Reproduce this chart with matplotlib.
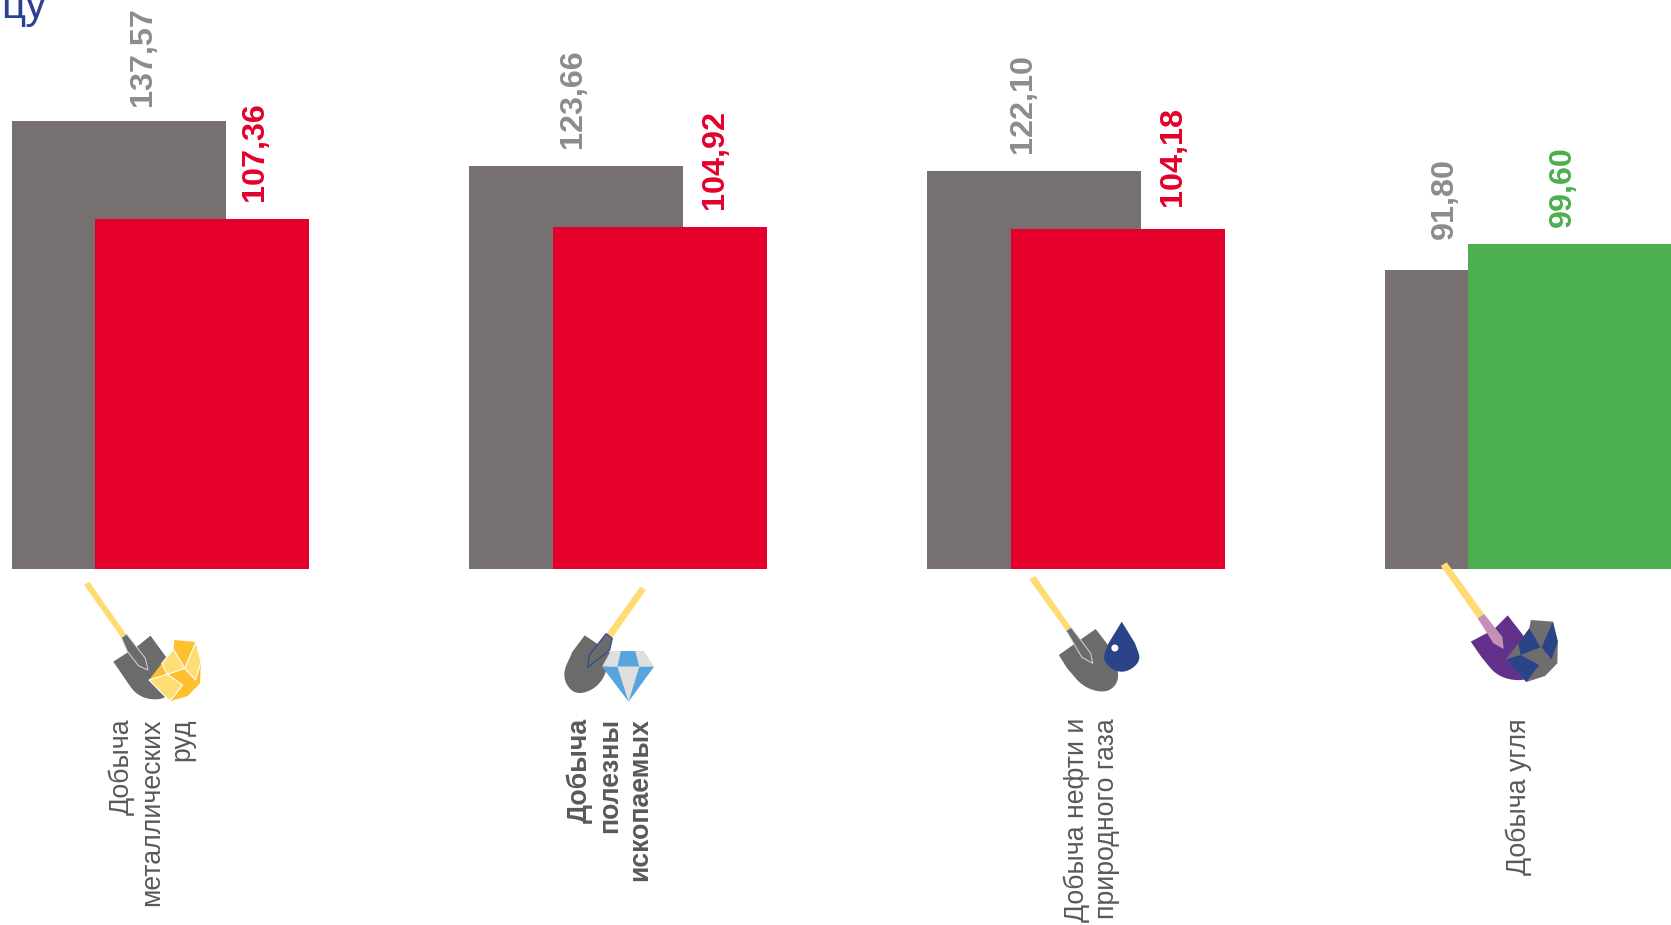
import matplotlib
matplotlib.use("Agg")
import matplotlib.pyplot as plt
from matplotlib.patches import Polygon, Ellipse

plt.rcParams['font.family'] = ['Liberation Sans', 'DejaVu Sans']

categories = ["Добыча\nметаллических\nруд", "Добыча\nполезны\nископаемых",
              "Добыча нефти и\nприродного газа", "Добыча угля"]
category_bold = [False, True, False, False]
values_prev = [137.57, 123.66, 122.10, 91.80]
values_curr = [107.36, 104.92, 104.18, 99.60]
labels_prev = ["137,57", "123,66", "122,10", "91,80"]
labels_curr = ["107,36", "104,92", "104,18", "99,60"]

W, H = 1671, 925
BASE = 569.0
PX_PER_UNIT = 3.2600
LEFT = 11.5
PITCH = 457.75
BAR_W = 214.0 / PITCH
SHIFT = 83.5 / PITCH

GRAY = "#767170"
RED = "#e4002b"
GREEN = "#4caf50"
LBL_GRAY = "#8c8c8c"
CAT = "#595959"
NAVY = "#2e4190"

fig = plt.figure(figsize=(W / 100, H / 100), dpi=100, facecolor="white")
ax = fig.add_axes([0, 1 - BASE / H, 1, BASE / H])
ax.set_xlim(-LEFT / PITCH, (W - LEFT) / PITCH)
ax.set_ylim(0, BASE / PX_PER_UNIT)
ax.axis("off")

xs = list(range(len(categories)))
ax.bar(xs, values_prev, width=BAR_W, align="edge", color=GRAY, linewidth=0)
curr_colors = [GREEN if c > p else RED for c, p in zip(values_curr, values_prev)]
ax.bar([x + SHIFT for x in xs], values_curr, width=BAR_W, align="edge", color=curr_colors, linewidth=0)

px = 72 / 100
# pixel offsets of the hand-placed labels
prev_dx = [24, -3, -11, -47]
prev_dy = [15, 18, 18, 31]
curr_dx = [53, 55.5, 55.5, -12]
curr_dy = [18.5, 18, 23.5, 17.5]
for i, x in enumerate(xs):
    ax.annotate(labels_prev[i], (x + BAR_W / 2, values_prev[i]),
                xytext=(prev_dx[i] * px, prev_dy[i] * px), textcoords="offset points",
                rotation=90, ha="center", va="bottom", fontsize=23.3, fontweight="bold",
                color=LBL_GRAY, annotation_clip=False)
    ax.annotate(labels_curr[i], (x + SHIFT + BAR_W / 2, values_curr[i]),
                xytext=(curr_dx[i] * px, curr_dy[i] * px), textcoords="offset points",
                rotation=90, ha="center", va="bottom", fontsize=23.3, fontweight="bold",
                color=curr_colors[i], annotation_clip=False)

cat_dx = [33.3, 33.6, 58, 27.5]
for i, x in enumerate(xs):
    ax.annotate(categories[i], (x + BAR_W / 2, 0), xytext=(cat_dx[i] * px, -149 * px),
                textcoords="offset points", rotation=90, ha="center", va="top",
                multialignment="right", fontsize=19.2, linespacing=1.22, color=CAT,
                fontweight="bold" if category_bold[i] else "normal", annotation_clip=False)

# decoration layer in pixel coordinates
ov = fig.add_axes([0, 0, 1, 1], facecolor="none")
ov.set_xlim(0, W)
ov.set_ylim(H, 0)
ov.axis("off")
ov.text(1, 18, "цу", fontsize=30.5, color=NAVY, ha="left", va="baseline")


def shape(pts, org, color, ec="none", lw=0, z=3, curve=None):
    ox, oy, sx, sy = org
    if curve is not None:
        i, j = curve
        seg = pts[i:j + 1]
        for _ in range(3):
            nxt = [seg[0]]
            for k in range(len(seg) - 1):
                a, b = seg[k], seg[k + 1]
                nxt.append((0.75 * a[0] + 0.25 * b[0], 0.75 * a[1] + 0.25 * b[1]))
                nxt.append((0.25 * a[0] + 0.75 * b[0], 0.25 * a[1] + 0.75 * b[1]))
            nxt.append(seg[-1])
            seg = nxt
        pts = pts[:i] + seg + pts[j + 1:]
    ov.add_patch(Polygon([(ox + a / sx, oy + b / sy) for a, b in pts], closed=True,
                         facecolor=color, edgecolor=ec, linewidth=lw, zorder=z))


Z1 = (0, 540, 1.96, 3)
Z2 = (900, 540, 2.034, 3)
HANDLE = "#ffdc73"
BLADE = "#6b6b6b"
GOLD = "#fdc12f"
GOLD_L = "#ffdd75"
BLUE = "#2b4488"
SKY = "#58a4dc"
LG = "#dfdfdf"

# icon 1
shape([(165, 135), (175, 125), (248, 285), (238, 293)], Z1, HANDLE)
shape([(222, 365), (270, 318), (295, 287), (325, 350), (345, 440), (320, 482), (270, 472), (240, 405)], Z1, BLADE, curve=(3, 7))
shape([(238, 293), (248, 282), (285, 355), (290, 390), (272, 378), (250, 335)], Z1, BLADE, "#d8d8d8", 0.7, 4)
shape([(342, 300), (384, 306), (394, 365), (392, 430), (368, 468), (333, 484), (292, 420), (325, 355), (340, 328)], Z1, GOLD, z=5)
shape([(340, 328), (362, 385), (328, 403), (317, 370)], Z1, GOLD_L, "white", 0.8, 6)
shape([(384, 306), (394, 365), (383, 420), (362, 385)], Z1, GOLD_L, "white", 0.8, 6)
shape([(292, 420), (328, 403), (358, 435), (333, 484)], Z1, GOLD_L, "white", 0.8, 6)

# icon 2
shape([(1255, 140), (1266, 150), (1200, 293), (1188, 283)], Z1, HANDLE)
shape([(1146, 286), (1198, 340), (1180, 435), (1128, 470), (1100, 410), (1122, 335)], Z1, BLADE, curve=(1, 5))
shape([(1188, 281), (1200, 295), (1195, 330), (1152, 382), (1155, 345)], Z1, BLADE, "#2e4a8f", 0.9, 4)
shape([(1197, 333), (1262, 333), (1282, 380), (1180, 380)], Z1, LG, z=5)
shape([(1217, 333), (1245, 333), (1253, 380), (1210, 380)], Z1, SKY, z=6)
shape([(1180, 380), (1282, 380), (1232, 485)], Z1, SKY, z=5)
shape([(1210, 380), (1253, 380), (1232, 485)], Z1, LG, z=6)

# icon 3
shape([(263, 118), (275, 108), (348, 262), (338, 272)], Z2, HANDLE)
shape([(323, 345), (370, 296), (398, 267), (423, 315), (450, 410), (425, 460), (375, 445), (340, 385)], Z2, BLADE, curve=(3, 7))
shape([(338, 272), (348, 262), (388, 340), (392, 370), (370, 352)], Z2, BLADE, "#d8d8d8", 0.7, 4)
shape([(451, 245), (478, 310), (492, 365), (451, 405), (410, 365), (424, 310)], Z2, BLUE, z=5, curve=(1, 5))
ov.add_patch(Ellipse((900 + 437 / 2.034, 540 + 324 / 3), 7, 7, facecolor="white", edgecolor="none", zorder=6))

# icon 4
shape([(1100, 78), (1112, 67), (1188, 222), (1175, 235)], Z2, HANDLE)
shape([(1161, 305), (1208, 268), (1236, 226), (1275, 300), (1295, 400), (1265, 425), (1215, 410), (1182, 350)], Z2, "#62318c", curve=(3, 7))
shape([(1175, 235), (1188, 222), (1225, 290), (1228, 327), (1207, 310)], Z2, "#c490b4", z=4)
shape([(1283, 240), (1328, 245), (1338, 305), (1337, 370), (1312, 408), (1274, 426), (1232, 358), (1258, 310), (1280, 265)], Z2, "#6e6e6e", z=5)
shape([(1280, 265), (1303, 322), (1262, 345), (1258, 310)], Z2, BLUE, z=6)
shape([(1328, 245), (1338, 305), (1325, 358), (1305, 322)], Z2, BLUE, z=6)
shape([(1232, 358), (1262, 345), (1300, 375), (1274, 426)], Z2, BLUE, z=6)

fig.savefig("out.png", dpi=100, facecolor="white")
